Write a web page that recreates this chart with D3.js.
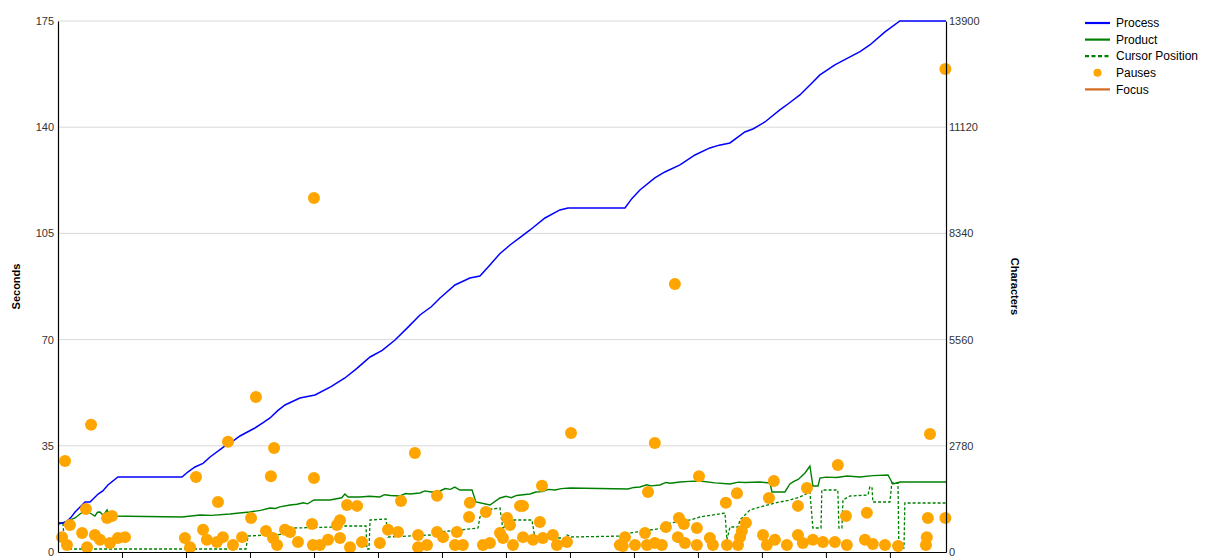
<!DOCTYPE html>
<html>
<head>
<meta charset="utf-8">
<script src="https://cdn.jsdelivr.net/npm/d3@7"></script>
<style>
  html, body { margin: 0; padding: 0; background: #fff; overflow: hidden; }
  svg { display: block; }
  text { font-family: "Liberation Sans", Arial, sans-serif; }
</style>
</head>
<body>
<svg id="chart" width="1212" height="560"></svg>
<script>
// ---- data (time in seconds) ----
const secondsTicks = [0, 35, 70, 105, 140, 175];
const charTicks = [0, 2780, 5560, 8340, 11120, 13900];
const timeTicks = [300, 600, 900, 1200, 1500, 1800, 2100, 2400, 2700, 3000, 3300, 3600, 3900];
const timeTickLabels = ["0:05:00","0:10:00","0:15:00","0:20:00","0:25:00","0:30:00","0:35:00","0:40:00","0:45:00","0:50:00","0:55:00","1:00:00","1:05:00"];
const timeMax = 4163;

// Process (characters)
const processData = [
  [0,733],[38,785],[60,900],[80,1047],[127,1309],[150,1309],[188,1518],[210,1600],[234,1754],[281,1964],
  [581,1964],[610,2100],[642,2225],[680,2320],[713,2487],[783,2775],[820,2900],[853,3037],[923,3246],
  [960,3380],[994,3508],[1030,3700],[1064,3848],[1134,4032],[1205,4110],[1280,4330],[1345,4555],
  [1400,4800],[1463,5105],[1520,5280],[1580,5550],[1640,5880],[1697,6205],[1750,6420],[1791,6650],
  [1861,6990],[1931,7173],[1978,7226],[2025,7514],[2070,7800],[2119,8037],[2170,8250],[2213,8430],
  [2283,8744],[2353,8954],[2391,9006],[2658,9006],[2690,9250],[2728,9477],[2798,9791],[2845,9948],
  [2916,10132],[2986,10393],[3056,10577],[3100,10650],[3150,10708],[3220,10996],[3260,11080],
  [3314,11257],[3384,11572],[3430,11760],[3478,11964],[3530,12250],[3572,12488],[3642,12750],
  [3713,12959],[3760,13100],[3806,13273],[3877,13614],[3947,13902],[4163,13902]
];

// Product (characters)
const productData = [
  [0,759],[23,759],[80,890],[103,995],[131,1100],[150,1020],[173,942],[185,1040],[197,1047],[212,960],
  [230,1100],[244,942],[581,916],[666,969],[720,960],[806,995],[850,1020],[900,1047],[950,1090],
  [994,1152],[1020,1140],[1040,1180],[1088,1230],[1120,1250],[1150,1290],[1170,1260],[1200,1361],
  [1275,1361],[1330,1420],[1345,1518],[1360,1440],[1416,1440],[1460,1460],[1509,1440],[1530,1500],
  [1560,1480],[1603,1466],[1630,1530],[1650,1520],[1697,1545],[1720,1600],[1750,1570],[1791,1597],
  [1815,1660],[1840,1640],[1860,1700],[1884,1623],[1941,1623],[1959,1309],[2025,1230],[2072,1414],
  [2100,1460],[2125,1420],[2150,1480],[2180,1500],[2213,1518],[2240,1570],[2270,1580],[2300,1640],
  [2330,1623],[2360,1660],[2400,1676],[2672,1649],[2700,1690],[2728,1702],[2760,1760],[2780,1730],
  [2822,1754],[2850,1820],[2870,1800],[2916,1833],[2960,1850],[3009,1859],[3080,1810],[3150,1780],
  [3190,1830],[3220,1820],[3291,1833],[3338,1806],[3347,1571],[3408,1571],[3431,1780],[3450,1850],
  [3470,1900],[3502,2068],[3525,2251],[3539,1728],[3563,1728],[3572,1937],[3600,1960],[3650,1950],
  [3700,1990],[3759,1964],[3820,2000],[3891,2016],[3914,1780],[3947,1833],[4163,1833]
];

// Cursor position (characters)
const cursorData = [
  [0,759],[23,759],[33,79],[581,79],[881,79],[891,419],[1088,471],[1102,628],[1298,655],[1345,681],
  [1444,681],[1448,79],[1458,79],[1463,838],[1538,864],[1547,393],[1744,445],[1791,524],[1884,576],
  [1969,628],[1978,916],[2002,1100],[2072,1152],[2086,576],[2105,838],[2222,838],[2236,367],
  [2377,367],[2386,445],[2409,393],[2658,419],[2681,497],[2775,576],[2845,628],[2869,759],
  [2963,838],[3009,916],[3127,1021],[3136,314],[3150,655],[3188,655],[3197,838],[3244,1100],
  [3291,1178],[3361,1283],[3431,1361],[3478,1440],[3525,1571],[3539,628],[3577,628],[3581,1623],
  [3656,1623],[3661,628],[3675,628],[3680,1361],[3713,1466],[3797,1492],[3806,1702],[3816,1702],
  [3820,1309],[3900,1309],[3909,1806],[3938,1806],[3942,105],[3966,105],[3970,1283],[4163,1283]
];

// Pauses (seconds)
const pauseData = [
  [33,30.0],[155,41.9],[131,14.2],[56,8.9],[230,11.2],[253,11.9],[647,24.7],[750,16.5],[797,36.3],
  [928,51.1],[998,25.0],[1013,34.3],[905,11.2],[1200,116.7],[1200,24.4],[1191,9.2],[1355,15.5],
  [1402,15.2],[1608,16.8],[1673,32.6],[1777,18.5],[1931,16.2],[1927,11.5],[2006,13.2],[2105,11.2],
  [2119,8.9],[2166,15.2],[2180,15.2],[2269,21.8],[2259,9.9],[2405,39.2],[1308,8.9],[1322,10.5],
  [2766,19.8],[2798,35.9],[2892,88.3],[3005,25.0],[3131,16.2],[3183,19.4],[3225,9.6],[3206,6.9],
  [3356,23.4],[3333,17.8],[3469,15.2],[3511,21.1],[3656,28.7],[3694,11.9],[3792,12.9],[4078,11.2],
  [4160,11.2],[4088,38.9],[4160,159.2],[2850,8.2],[2911,11.2],[2934,9.2],[2995,7.9],[4073,4.9],
  [4069,2.3],[3938,2.0],
  [19,4.9],[42,2.3],[113,6.3],[136,1.6],[173,5.6],[197,4.0],[244,3.0],[281,4.6],[314,4.9],
  [595,4.6],[619,1.6],[680,7.3],[698,4.0],[745,3.3],[773,4.9],[820,2.3],[863,4.9],[975,6.9],
  [1008,4.6],[1027,2.3],[1064,7.3],[1088,6.6],[1125,3.3],[1195,2.3],[1228,2.3],[1266,4.0],
  [1322,4.6],[1369,1.6],[1425,3.3],[1509,3.0],[1547,7.3],[1594,6.6],[1688,5.6],[1688,1.6],
  [1730,2.3],[1777,6.6],[1805,4.9],[1861,2.3],[1870,6.6],[1898,2.3],[1992,2.3],[2025,3.0],
  [2072,6.3],[2086,4.6],[2133,2.3],[2180,4.9],[2227,4.0],[2273,4.6],[2320,5.6],[2339,2.3],
  [2386,3.3],[2634,2.3],[2658,4.9],[2648,2.0],[2705,2.3],[2752,6.3],[2761,2.3],[2798,3.0],
  [2831,2.3],[2906,4.9],[2939,3.0],[2995,2.3],[3056,4.6],[3070,2.3],[3136,2.3],[3188,2.3],
  [3197,4.9],[3305,5.6],[3323,2.3],[3361,4.0],[3417,2.3],[3469,5.6],[3492,3.0],[3539,4.0],
  [3586,3.3],[3642,3.3],[3698,2.3],[3783,4.0],[3820,2.6],[3877,2.3]
];

const legendItems = [
  {label: "Process", type: "line", color: "#0000FF"},
  {label: "Product", type: "line", color: "#008000"},
  {label: "Cursor Position", type: "dash", color: "#008000"},
  {label: "Pauses", type: "dot", color: "#FFA500"},
  {label: "Focus", type: "line", color: "#D2691E"}
];

// ---- drawing ----
const svg = d3.select("#chart");
const M = {left: 58, right: 946, top: 21, bottom: 552};

const x = d3.scaleLinear().domain([0, timeMax]).range([M.left, M.right]);
const ySec = d3.scaleLinear().domain([0, 175]).range([M.bottom, M.top]);
const yChar = d3.scaleLinear().domain([0, 13900]).range([M.bottom, M.top]);

// gridlines
svg.append("g")
  .selectAll("line")
  .data(secondsTicks.filter(d => d > 0))
  .join("line")
  .attr("x1", M.left).attr("x2", M.right)
  .attr("y1", d => ySec(d)).attr("y2", d => ySec(d))
  .attr("stroke", "#d9d9d9").attr("stroke-width", 1);

// lines
const lineGen = d3.line().x(d => x(d[0])).y(d => yChar(d[1]));

svg.append("path").datum(cursorData)
  .attr("d", lineGen).attr("fill", "none")
  .attr("stroke", "#008000").attr("stroke-width", 1.3)
  .attr("stroke-dasharray", "3,2");

svg.append("path").datum(productData)
  .attr("d", lineGen).attr("fill", "none")
  .attr("stroke", "#008000").attr("stroke-width", 1.4);

svg.append("path").datum(processData)
  .attr("d", lineGen).attr("fill", "none")
  .attr("stroke", "#0000FF").attr("stroke-width", 1.5);

// pauses
svg.append("g")
  .selectAll("circle")
  .data(pauseData)
  .join("circle")
  .attr("cx", d => x(d[0]))
  .attr("cy", d => ySec(d[1]))
  .attr("r", 6)
  .attr("fill", "#FFA500");

// axes
const fontFam = "'Liberation Sans', Arial, sans-serif";
const axisL = d3.axisLeft(ySec).tickValues(secondsTicks).tickFormat(d3.format("d")).tickSize(0).tickPadding(4);
const gL = svg.append("g").attr("transform", `translate(${M.left},0)`).call(axisL);
gL.select(".domain").attr("stroke", "#000").attr("stroke-width", 1.2);
gL.selectAll("text").attr("font-size", 11).attr("fill", "#333").style("font-family", fontFam);

const axisR = d3.axisRight(yChar).tickValues(charTicks).tickFormat(d3.format("d")).tickSize(0).tickPadding(3);
const gR = svg.append("g").attr("transform", `translate(${M.right},0)`).call(axisR);
gR.select(".domain").attr("stroke", "#000").attr("stroke-width", 1.2);
gR.selectAll("text").attr("font-size", 11).attr("fill", "#333").style("font-family", fontFam);

const axisB = d3.axisBottom(x).tickValues(timeTicks)
  .tickFormat((d, i) => timeTickLabels[i]).tickSize(6).tickPadding(6).tickSizeOuter(0);
const gB = svg.append("g").attr("transform", `translate(0,${M.bottom})`).call(axisB);
gB.select(".domain").attr("stroke", "#000").attr("stroke-width", 1.2);
gB.selectAll(".tick line").attr("stroke", "#000");
gB.selectAll("text").attr("font-size", 11).attr("fill", "#333").style("font-family", fontFam);

// axis titles
svg.append("text")
  .attr("transform", `translate(20,${(M.top + M.bottom) / 2}) rotate(-90)`)
  .attr("text-anchor", "middle")
  .attr("font-size", 11).attr("font-weight", "bold")
  .text("Seconds");

svg.append("text")
  .attr("transform", `translate(1011,${(M.top + M.bottom) / 2}) rotate(90)`)
  .attr("text-anchor", "middle")
  .attr("font-size", 11).attr("font-weight", "bold")
  .text("Characters");

// legend
const lg = svg.append("g").attr("transform", "translate(1085,23)");
const rows = lg.selectAll("g").data(legendItems).join("g")
  .attr("transform", (d, i) => `translate(0,${i * 16.6})`);
rows.each(function(d) {
  const g = d3.select(this);
  if (d.type === "dot") {
    g.append("circle").attr("cx", 12.5).attr("cy", 0).attr("r", 4).attr("fill", d.color);
  } else {
    g.append("line").attr("x1", 0).attr("x2", 25).attr("y1", 0).attr("y2", 0)
      .attr("stroke", d.color).attr("stroke-width", 2.2)
      .attr("stroke-dasharray", d.type === "dash" ? "4,2.5" : null);
  }
  g.append("text").attr("x", 31).attr("y", 0).attr("dy", "0.35em")
    .attr("font-size", 12).attr("fill", "#000").text(d.label);
});
</script>
</body>
</html>
